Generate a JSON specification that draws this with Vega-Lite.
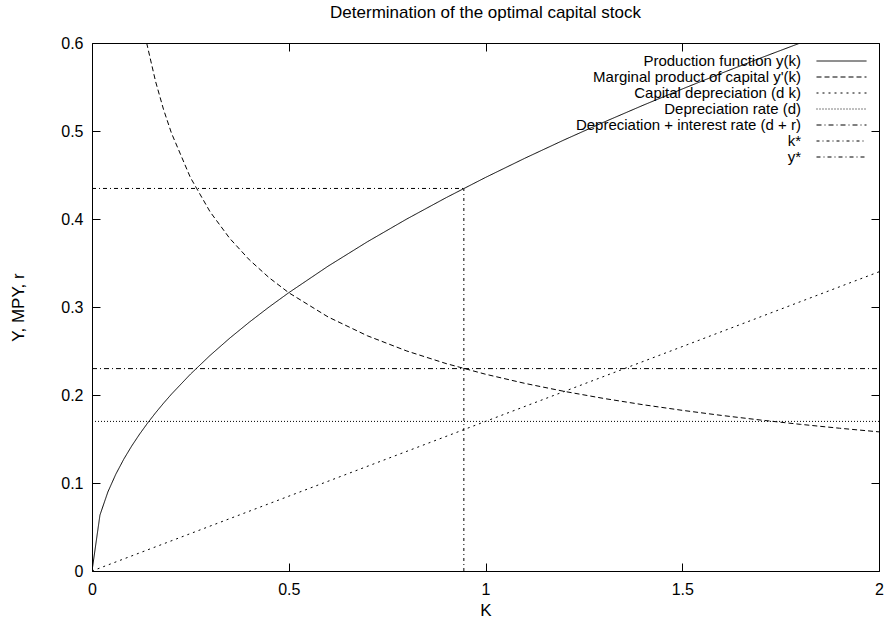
{
  "$schema": "https://vega.github.io/schema/vega-lite/v6.json",
  "width": 787,
  "height": 528,
  "autosize": {"type": "none"},
  "padding": {"left": 92, "top": 43, "right": 9, "bottom": 57},
  "title": {"text": "Determination of the optimal capital stock", "font": "Liberation Sans", "fontSize": 17, "fontWeight": "normal", "color": "black", "baseline": "alphabetic", "offset": 0, "anchor": "middle", "frame": "group"},
  "config": {"view": {"stroke": "black", "strokeWidth": 1}, "font": "Liberation Sans"},
  "data": {"values": [
    {"s": "Production function y(k)", "k": 0, "v": 0},
    {"s": "Production function y(k)", "k": 0.0202, "v": 0.06356},
    {"s": "Production function y(k)", "k": 0.0404, "v": 0.08989},
    {"s": "Production function y(k)", "k": 0.0606, "v": 0.11009},
    {"s": "Production function y(k)", "k": 0.0808, "v": 0.12712},
    {"s": "Production function y(k)", "k": 0.101, "v": 0.14213},
    {"s": "Production function y(k)", "k": 0.1212, "v": 0.15569},
    {"s": "Production function y(k)", "k": 0.1414, "v": 0.16817},
    {"s": "Production function y(k)", "k": 0.1616, "v": 0.17978},
    {"s": "Production function y(k)", "k": 0.1818, "v": 0.19068},
    {"s": "Production function y(k)", "k": 0.202, "v": 0.201},
    {"s": "Production function y(k)", "k": 0.25, "v": 0.22361},
    {"s": "Production function y(k)", "k": 0.3, "v": 0.24495},
    {"s": "Production function y(k)", "k": 0.35, "v": 0.26458},
    {"s": "Production function y(k)", "k": 0.4, "v": 0.28284},
    {"s": "Production function y(k)", "k": 0.45, "v": 0.3},
    {"s": "Production function y(k)", "k": 0.5, "v": 0.31623},
    {"s": "Production function y(k)", "k": 0.6, "v": 0.34641},
    {"s": "Production function y(k)", "k": 0.7, "v": 0.37417},
    {"s": "Production function y(k)", "k": 0.8, "v": 0.4},
    {"s": "Production function y(k)", "k": 0.9, "v": 0.42426},
    {"s": "Production function y(k)", "k": 1.0, "v": 0.44721},
    {"s": "Production function y(k)", "k": 1.1, "v": 0.46904},
    {"s": "Production function y(k)", "k": 1.2, "v": 0.4899},
    {"s": "Production function y(k)", "k": 1.3, "v": 0.5099},
    {"s": "Production function y(k)", "k": 1.4, "v": 0.52915},
    {"s": "Production function y(k)", "k": 1.5, "v": 0.54772},
    {"s": "Production function y(k)", "k": 1.6, "v": 0.56569},
    {"s": "Production function y(k)", "k": 1.7, "v": 0.5831},
    {"s": "Production function y(k)", "k": 1.8, "v": 0.6},
    {"s": "Marginal product of capital y'(k)", "k": 0.1389, "v": 0.6},
    {"s": "Marginal product of capital y'(k)", "k": 0.1616, "v": 0.55624},
    {"s": "Marginal product of capital y'(k)", "k": 0.1818, "v": 0.52444},
    {"s": "Marginal product of capital y'(k)", "k": 0.202, "v": 0.49753},
    {"s": "Marginal product of capital y'(k)", "k": 0.25, "v": 0.44721},
    {"s": "Marginal product of capital y'(k)", "k": 0.3, "v": 0.40825},
    {"s": "Marginal product of capital y'(k)", "k": 0.35, "v": 0.37796},
    {"s": "Marginal product of capital y'(k)", "k": 0.4, "v": 0.35355},
    {"s": "Marginal product of capital y'(k)", "k": 0.45, "v": 0.33333},
    {"s": "Marginal product of capital y'(k)", "k": 0.5, "v": 0.31623},
    {"s": "Marginal product of capital y'(k)", "k": 0.6, "v": 0.28868},
    {"s": "Marginal product of capital y'(k)", "k": 0.7, "v": 0.26726},
    {"s": "Marginal product of capital y'(k)", "k": 0.8, "v": 0.25},
    {"s": "Marginal product of capital y'(k)", "k": 0.9, "v": 0.2357},
    {"s": "Marginal product of capital y'(k)", "k": 1.0, "v": 0.22361},
    {"s": "Marginal product of capital y'(k)", "k": 1.1, "v": 0.2132},
    {"s": "Marginal product of capital y'(k)", "k": 1.2, "v": 0.20412},
    {"s": "Marginal product of capital y'(k)", "k": 1.3, "v": 0.19612},
    {"s": "Marginal product of capital y'(k)", "k": 1.4, "v": 0.18898},
    {"s": "Marginal product of capital y'(k)", "k": 1.5, "v": 0.18257},
    {"s": "Marginal product of capital y'(k)", "k": 1.6, "v": 0.17678},
    {"s": "Marginal product of capital y'(k)", "k": 1.7, "v": 0.1715},
    {"s": "Marginal product of capital y'(k)", "k": 1.8, "v": 0.16667},
    {"s": "Marginal product of capital y'(k)", "k": 1.9, "v": 0.16222},
    {"s": "Marginal product of capital y'(k)", "k": 2.0, "v": 0.15811},
    {"s": "Capital depreciation (d k)", "k": 0, "v": 0},
    {"s": "Capital depreciation (d k)", "k": 2, "v": 0.34},
    {"s": "Depreciation rate (d)", "k": 0, "v": 0.17},
    {"s": "Depreciation rate (d)", "k": 2, "v": 0.17},
    {"s": "Depreciation + interest rate (d + r)", "k": 0, "v": 0.23},
    {"s": "Depreciation + interest rate (d + r)", "k": 2, "v": 0.23},
    {"s": "k*", "k": 0.945, "v": 0},
    {"s": "k*", "k": 0.945, "v": 0.4347},
    {"s": "y*", "k": 0, "v": 0.4347},
    {"s": "y*", "k": 0.945, "v": 0.4347}
  ]},
  "layer": [
    {
      "mark": {"type": "line", "clip": true, "color": "black", "strokeWidth": 1},
      "encoding": {
        "x": {"field": "k", "type": "quantitative", "scale": {"domain": [0, 2], "nice": false, "zero": true},
          "axis": {"orient": "bottom", "offset": -8, "values": [0, 0.5, 1, 1.5, 2], "format": "~g", "tickSize": 8, "domain": false, "tickColor": "black", "labelColor": "black", "labelFontSize": 16, "labelFont": "Liberation Sans", "labelPadding": 10, "labelFlush": false, "grid": false, "title": "K", "titleFont": "Liberation Sans", "titleFontSize": 17, "titleFontWeight": "normal", "titleColor": "black", "titleY": 47, "titleBaseline": "middle"}},
        "y": {"field": "v", "type": "quantitative", "scale": {"domain": [0, 0.6], "nice": false, "zero": true},
          "axis": {"orient": "left", "offset": -8, "values": [0, 0.1, 0.2, 0.3, 0.4, 0.5, 0.6], "format": "~g", "tickSize": 8, "domain": false, "tickColor": "black", "labelColor": "black", "labelFontSize": 16, "labelFont": "Liberation Sans", "labelPadding": 9, "labelFlush": false, "grid": false, "title": "Y, MPY, r", "titleFont": "Liberation Sans", "titleFontSize": 17, "titleFontWeight": "normal", "titleColor": "black", "titleX": -82, "titleY": 264, "titleBaseline": "middle", "titleAngle": -90}},
        "strokeDash": {"field": "s", "type": "nominal",
          "scale": {"domain": ["Production function y(k)", "Marginal product of capital y'(k)", "Capital depreciation (d k)", "Depreciation rate (d)", "Depreciation + interest rate (d + r)", "k*", "y*"],
            "range": [[1, 0], [5, 3], [2, 4], [1, 2], [5, 3, 1, 3], [3, 3, 1, 3], [4, 3, 1, 3]]},
          "legend": {"orient": "none", "legendX": 742, "legendY": 10.5, "title": null, "symbolType": "M-5,0H5", "symbolSize": 100, "symbolStrokeWidth": 1, "symbolStrokeColor": "black", "symbolFillColor": "transparent", "rowPadding": -6, "labelAlign": "right", "labelOffset": -48, "labelFontSize": 15, "labelFont": "Liberation Sans", "labelColor": "black", "labelLimit": 600, "padding": 0, "labelBaseline": "middle"}}
      }
    },
    {
      "mark": {"type": "point", "opacity": 0, "size": 1, "clip": true},
      "encoding": {
        "x": {"field": "k", "type": "quantitative", "axis": {"orient": "top", "offset": -8, "values": [0, 0.5, 1, 1.5, 2], "labels": false, "domain": false, "tickSize": 8, "tickColor": "black", "grid": false, "title": null}},
        "y": {"field": "v", "type": "quantitative", "axis": {"orient": "right", "offset": -8, "values": [0, 0.1, 0.2, 0.3, 0.4, 0.5, 0.6], "labels": false, "domain": false, "tickSize": 8, "tickColor": "black", "grid": false, "title": null}}
      }
    }
  ],
  "resolve": {"axis": {"x": "independent", "y": "independent"}}
}
